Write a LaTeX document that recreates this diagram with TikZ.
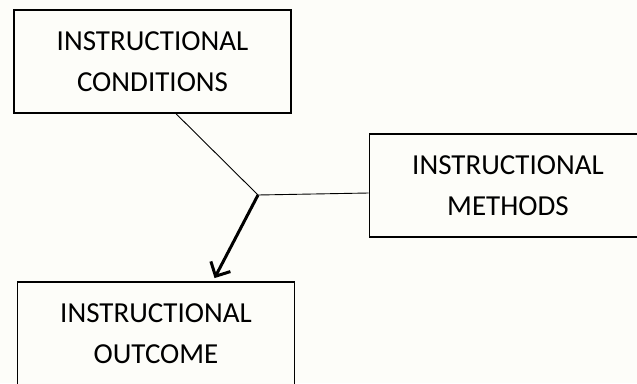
\documentclass[tikz,border=0pt]{standalone}
\usepackage{fontspec}
\setmainfont{Carlito}
\usetikzlibrary{arrows.meta,calc}
\definecolor{bg}{RGB}{253,253,249}
\begin{document}
\begin{tikzpicture}[x=1pt,y=-1pt,
  boxnode/.style={draw=black,line width=1.8pt,fill=bg,minimum width=277pt,minimum height=103pt,
    align=center,inner sep=0pt,font=\fontsize{29}{41}\selectfont},
  thinline/.style={draw=black,line width=0.9pt},
  thickarrow/.style={draw=black,line width=3pt,-{Straight Barb[length=11pt,width=22pt,line width=3pt]}}]
\useasboundingbox (0,0) rectangle (637,383);
\clip (0,0) rectangle (637,383);
\fill[bg] (0,0) rectangle (637,383);
\node[boxnode] (cond) at (152.5,61.5) {INSTRUCTIONAL\\CONDITIONS};
\node[boxnode] (meth) at (508,185.5) {INSTRUCTIONAL\\METHODS};
\node[boxnode] (outc) at (156,333.5) {INSTRUCTIONAL\\OUTCOME};
\coordinate (J) at (258,195);
\draw[thinline] ($(cond.south west)!0.585!(cond.south east)$) -- (J);
\draw[thinline] (J) -- ($(meth.west)+(0,7.5)$);
\draw[thickarrow] (J) -- ($(outc.north west)!0.71!(outc.north east)+(0,-3)$);
\end{tikzpicture}
\end{document}
